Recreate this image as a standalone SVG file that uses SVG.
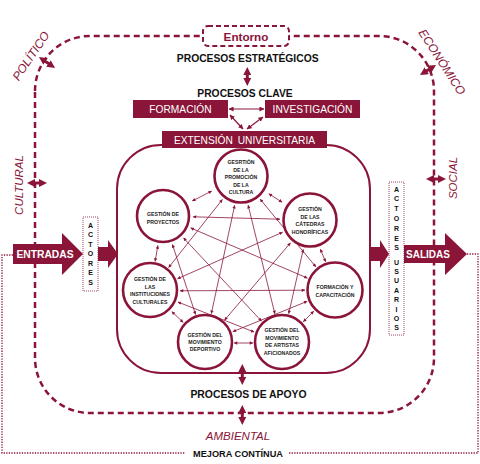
<svg xmlns="http://www.w3.org/2000/svg" width="480" height="464" viewBox="0 0 480 464">
<style>
.m{fill:#8a1538}
.dash{fill:none;stroke:#8a1538;stroke-width:2.5;stroke-dasharray:6,4}
.dot{fill:none;stroke:#8a1538;stroke-width:1.3;stroke-dasharray:1.3,1.3}
.big{fill:none;stroke:#8a1538;stroke-width:3;marker-start:url(#bh);marker-end:url(#bh)}
.md{fill:none;stroke:#8a1538;stroke-width:1.2;marker-start:url(#mh);marker-end:url(#mh)}
.nl{fill:none;stroke:#8a1538;stroke-width:0.8;marker-start:url(#sh);marker-end:url(#sh)}
.c{fill:#fff;stroke:#8a1538;stroke-width:2.6}
.ct{font-family:"Liberation Sans",Arial,sans-serif;font-weight:bold;font-size:5.2px;fill:#222;text-anchor:middle}
.h{font-family:"Liberation Sans",Arial,sans-serif;font-weight:bold;fill:#111;text-anchor:middle}
.w{font-family:"Liberation Sans",Arial,sans-serif;fill:#fff;text-anchor:middle}
.it{font-family:"Liberation Sans",Arial,sans-serif;font-style:italic;fill:#8a1538;text-anchor:middle}
.lt{font-family:"Liberation Sans",Arial,sans-serif;font-weight:bold;font-size:7px;fill:#111;text-anchor:middle}
</style>
<defs>
<marker id="bh" viewBox="0 0 8 8" refX="2" refY="4" markerWidth="8" markerHeight="8" markerUnits="userSpaceOnUse" orient="auto-start-reverse"><path d="M0,0 L8,4 L0,8 Z" fill="#8a1538"/></marker>
<marker id="mh" viewBox="0 0 6 6" refX="5.5" refY="3" markerWidth="5" markerHeight="5" markerUnits="userSpaceOnUse" orient="auto-start-reverse"><path d="M0,0 L6,3 L0,6 Z" fill="#8a1538"/></marker>
<marker id="sh" viewBox="0 0 4 4" refX="3.8" refY="2" markerWidth="4" markerHeight="3.4" markerUnits="userSpaceOnUse" orient="auto-start-reverse"><path d="M0,0 L4,2 L0,4 Z" fill="#8a1538"/></marker>
</defs>
<rect width="480" height="464" fill="#fff"/>

<g id="entorno-frame">
<path class="dash" d="M35,91 A55,55 0 0 1 90,36 L379,36 A55,55 0 0 1 434,91 L434,358 A55,55 0 0 1 379,413 L90,413 A55,55 0 0 1 35,358 Z"/>
</g>
<g id="entorno">
<rect x="203" y="26" width="86" height="20" rx="5" fill="#fff" stroke="#8a1538" stroke-width="2" stroke-dasharray="5,3"/>
<text x="246" y="40.5" font-family="Liberation Sans,Arial,sans-serif" font-weight="bold" font-size="11.7" fill="#8a1538" text-anchor="middle">Entorno</text>
</g>
<g id="mejora">
<path class="dot" d="M13,255 L2,255 L2,453 L185,453"/>
<path class="dot" d="M289,453 L478,453 L478,254 L467,254"/>
<text class="h" x="238" y="456.5" font-size="9.2">MEJORA CONTÍNUA</text>
</g>

<g id="labels">
<text class="h" x="247.7" y="62" font-size="10.3">PROCESOS ESTRATÉGICOS</text>
<text class="h" x="245" y="97" font-size="10.3">PROCESOS CLAVE</text>
<text class="h" x="248.5" y="398" font-size="10.4">PROCESOS DE APOYO</text>
<text class="it" font-size="12" transform="translate(34.3,58.2) rotate(-56)">POLÍTICO</text>
<text class="it" font-size="12" transform="translate(438.6,64.2) rotate(57)">ECONÓMICO</text>
<text class="it" font-size="11.5" transform="translate(23,185) rotate(-90)">CULTURAL</text>
<text class="it" font-size="11.5" transform="translate(457,178) rotate(-90)">SOCIAL</text>
<text class="it" font-size="11.5" x="238" y="440">AMBIENTAL</text>
</g>

<g id="formacion">
<rect class="m" x="133" y="100" width="95" height="18"/>
<text class="w" x="180.5" y="113" font-size="10.2">FORMACIÓN</text>
</g>
<g id="investigacion">
<rect class="m" x="265" y="100" width="95" height="18"/>
<text class="w" x="312.5" y="113" font-size="10.2">INVESTIGACIÓN</text>
</g>

<g id="extension-area">
<rect x="117" y="145" width="253" height="228" rx="44" fill="none" stroke="#8a1538" stroke-width="2"/>
</g>
<g id="extension">
<rect class="m" x="162" y="131" width="165" height="17"/>
<text class="w" x="244.5" y="143.5" font-size="10.2" word-spacing="2">EXTENSIÓN UNIVERSITARIA</text>
</g>

<g id="connectors">
<line class="big" x1="247.3" y1="73" x2="247.3" y2="80"/>
<line class="big" x1="242.3" y1="370" x2="242.3" y2="379"/>
<line class="big" x1="242.3" y1="411" x2="242.3" y2="419"/>
<line class="big" x1="33" y1="183" x2="41" y2="183"/>
<line class="big" x1="432" y1="179" x2="440" y2="179"/>
<line class="big" x1="43.9" y1="60.4" x2="50.1" y2="64.6"/>
<line class="big" x1="425.1" y1="71.8" x2="430.9" y2="68.2"/>
<line class="md" x1="229" y1="109" x2="264" y2="109"/>
<line class="md" x1="230" y1="115" x2="243" y2="129"/>
<line class="md" x1="263" y1="117" x2="247" y2="129"/>
<line class="nl" x1="192.3" y1="201" x2="211.7" y2="191"/>
<line class="nl" x1="268.8" y1="193.8" x2="282.2" y2="202.2"/>
<line class="nl" x1="320.4" y1="249.2" x2="325.6" y2="261.8"/>
<line class="nl" x1="313.8" y1="311.2" x2="303.2" y2="321.8"/>
<line class="nl" x1="253" y1="343" x2="234" y2="343"/>
<line class="nl" x1="183.2" y1="322.4" x2="171.8" y2="311.6"/>
<line class="nl" x1="155.1" y1="261.4" x2="157.9" y2="245.5"/>
<line class="nl" x1="260.1" y1="199.1" x2="315.9" y2="266.9"/>
<line class="nl" x1="248.1" y1="205.1" x2="274.9" y2="313.9"/>
<line class="nl" x1="234.7" y1="205.3" x2="211.3" y2="313.7"/>
<line class="nl" x1="222.4" y1="199.5" x2="168.6" y2="267.5"/>
<line class="nl" x1="303.3" y1="249.3" x2="288.7" y2="313.7"/>
<line class="nl" x1="290.5" y1="242.8" x2="224.5" y2="320.2"/>
<line class="nl" x1="282.6" y1="232.2" x2="177.4" y2="278.8"/>
<line class="nl" x1="280" y1="219.2" x2="193" y2="216.8"/>
<line class="nl" x1="307.2" y1="301.3" x2="232.8" y2="331.7"/>
<line class="nl" x1="305" y1="290.2" x2="180" y2="290.8"/>
<line class="nl" x1="307.4" y1="278.1" x2="190.6" y2="227.9"/>
<line class="nl" x1="254.1" y1="332" x2="177.9" y2="302"/>
<line class="nl" x1="261.5" y1="321.1" x2="183.5" y2="237.9"/>
<line class="nl" x1="195.6" y1="314.5" x2="172.4" y2="244.5"/>
<polygon class="m" points="98,247 108,247 108,240 118,254 108,268 108,261 98,261"/>
<polygon class="m" points="369,247 380,247 380,240 389,254 380,268 380,261 369,261"/>
</g>

<g id="entradas">
<polygon class="m" points="13,244 62,244 62,233 83,254 62,275 62,264 13,264"/>
<text class="w" x="45" y="258" font-size="10.3" font-weight="bold">ENTRADAS</text>
</g>
<g id="salidas">
<polygon class="m" points="404,245 445,245 445,233 467,254 445,275 445,263 404,263"/>
<text class="w" x="428" y="258" font-size="10" font-weight="bold">SALIDAS</text>
</g>

<g id="actores">
<rect x="83" y="217" width="15" height="74" fill="#fff" stroke="#8a1538" stroke-width="0.8" stroke-dasharray="1,1"/>
<text class="lt" x="90.5" y="227.5">A</text>
<text class="lt" x="90.5" y="237">C</text>
<text class="lt" x="90.5" y="246.5">T</text>
<text class="lt" x="90.5" y="256">O</text>
<text class="lt" x="90.5" y="265.5">R</text>
<text class="lt" x="90.5" y="275">E</text>
<text class="lt" x="90.5" y="284.5">S</text>
</g>
<g id="actores-usuarios">
<rect x="389" y="182" width="15" height="153" fill="#fff" stroke="#8a1538" stroke-width="0.8" stroke-dasharray="1,1"/>
<text class="lt" x="396.5" y="191.5">A</text>
<text class="lt" x="396.5" y="201.3">C</text>
<text class="lt" x="396.5" y="211.1">T</text>
<text class="lt" x="396.5" y="220.9">O</text>
<text class="lt" x="396.5" y="230.7">R</text>
<text class="lt" x="396.5" y="240.5">E</text>
<text class="lt" x="396.5" y="250.3">S</text>
<text class="lt" x="396.5" y="264.5">U</text>
<text class="lt" x="396.5" y="273.9">S</text>
<text class="lt" x="396.5" y="283.3">U</text>
<text class="lt" x="396.5" y="292.7">A</text>
<text class="lt" x="396.5" y="302.1">R</text>
<text class="lt" x="396.5" y="311.5">I</text>
<text class="lt" x="396.5" y="320.9">O</text>
<text class="lt" x="396.5" y="330.3">S</text>
</g>

<g id="promocion">
<circle class="c" cx="241" cy="176" r="26.5"/>
<text class="ct" x="241" y="164">GESRTIÓN</text>
<text class="ct" x="241" y="171.5">DE LA</text>
<text class="ct" x="241" y="179">PROMOCIÓN</text>
<text class="ct" x="241" y="186.5">DE LA</text>
<text class="ct" x="241" y="194">CULTURA</text>
</g>
<g id="proyectos">
<circle class="c" cx="163" cy="216" r="26"/>
<text class="ct" x="163" y="216">GESTIÓN DE</text>
<text class="ct" x="163" y="223.5">PROYECTOS</text>
</g>
<g id="catedras">
<circle class="c" cx="310" cy="220" r="26.5"/>
<text class="ct" x="310" y="211">GESTIÓN</text>
<text class="ct" x="310" y="218.5">DE LAS</text>
<text class="ct" x="310" y="226">CÁTEDRAS</text>
<text class="ct" x="310" y="233.5">HONORÍFICAS</text>
</g>
<g id="formacion-capacitacion">
<circle class="c" cx="335" cy="290" r="27.5"/>
<text class="ct" x="335" y="289">FORMACIÓN Y</text>
<text class="ct" x="335" y="296.5">CAPACITACIÓN</text>
</g>
<g id="artistas">
<circle class="c" cx="282" cy="342" r="27"/>
<text class="ct" x="282" y="332">GESTIÓN DEL</text>
<text class="ct" x="282" y="339.5">MOVIMIENTO</text>
<text class="ct" x="282" y="347">DE ARTISTAS</text>
<text class="ct" x="282" y="354.5">AFICIONADOS</text>
</g>
<g id="deportivo">
<circle class="c" cx="205" cy="342" r="27"/>
<text class="ct" x="205" y="337">GESTIÓN DEL</text>
<text class="ct" x="205" y="344">MOVIMIENTO</text>
<text class="ct" x="205" y="351">DEPORTIVO</text>
</g>
<g id="instituciones">
<circle class="c" cx="150" cy="290" r="27"/>
<text class="ct" x="150" y="281">GESTIÓN DE</text>
<text class="ct" x="150" y="288.5">LAS</text>
<text class="ct" x="150" y="296">INSTITUCIONES</text>
<text class="ct" x="150" y="303.5">CULTURALES</text>
</g>
</svg>
